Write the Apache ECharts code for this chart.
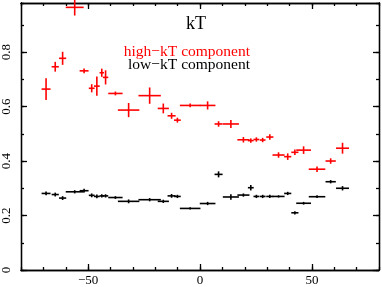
<!DOCTYPE html>
<html><head><meta charset="utf-8">
<script src="https://cdn.jsdelivr.net/npm/echarts@6/dist/echarts.min.js"></script>
<style>html,body{margin:0;padding:0;background:#fff}#c{width:382px;height:287px}</style>
</head><body><div id="c"></div>
<script>
// bin centres and half widths (shared by both components)
const xCenters = [-68.8,-64.7,-61.4,-56.0,-51.8,-48.4,-46.1,-43.9,-42.2,-37.8,-31.9,-22.5,-16.4,-12.7,-10.1,-4.4,3.4,8.3,13.8,19.4,22.7,25.2,28.0,31.2,35.1,39.2,42.4,46.3,52.3,58.4,63.7];
const xHalfWidths = [2.0,1.6,1.6,4.0,2.0,1.3,1.3,1.0,1.2,3.2,4.8,5.0,2.5,1.8,1.5,4.6,3.5,1.8,3.6,2.7,1.3,1.3,1.3,1.6,2.7,1.6,1.6,3.3,3.7,2.3,2.9];
const highKT = [0.664,0.746,0.777,0.964,0.731,0.667,0.675,0.724,0.707,0.648,0.587,0.640,0.593,0.566,0.550,0.604,0.604,0.536,0.536,0.478,0.475,0.479,0.477,0.488,0.422,0.416,0.432,0.440,0.370,0.400,0.447];
const highKTErr = [0.040,0.018,0.024,0.030,0.009,0.015,0.035,0.015,0.026,0.007,0.026,0.030,0.018,0.011,0.009,0.007,0.015,0.010,0.015,0.010,0.008,0.008,0.008,0.010,0.010,0.012,0.010,0.014,0.010,0.010,0.020];
const lowKT = [0.281,0.277,0.264,0.287,0.291,0.274,0.270,0.272,0.272,0.266,0.252,0.258,0.252,0.272,0.270,0.226,0.244,0.351,0.268,0.275,0.302,0.270,0.270,0.270,0.270,0.281,0.210,0.245,0.269,0.324,0.300];
const lowKTErr = [0.007,0.007,0.007,0.006,0.007,0.007,0.007,0.006,0.006,0.005,0.007,0.006,0.006,0.007,0.006,0.004,0.006,0.011,0.010,0.006,0.010,0.006,0.006,0.006,0.004,0.006,0.006,0.005,0.005,0.006,0.008];
const xMajorTicks = [-50,0,50];
const yMajorTicks = [0,0.2,0.4,0.6,0.8];
const titleText = 'kT';
const highLabel = 'high\u2212kT component';
const lowLabel = 'low\u2212kT component';

const FONT = 'Liberation Serif';
function build(vals, errs){
  return xCenters.map((x,i)=>[x, vals[i], xHalfWidths[i], errs[i]]);
}
function makeRender(color){
  return function(params, api){
    const x=api.value(0), y=api.value(1), xe=api.value(2), ye=api.value(3);
    const l=api.coord([x-xe,y]), r=api.coord([x+xe,y]);
    const b=api.coord([x,y-ye]), t=api.coord([x,y+ye]);
    const style={stroke:color, lineWidth:1.6};
    return {type:'group', children:[
      {type:'line', shape:{x1:l[0],y1:l[1],x2:r[0],y2:r[1]}, style:style},
      {type:'line', shape:{x1:b[0],y1:b[1],x2:t[0],y2:t[1]}, style:style}
    ]};
  };
}
const lineStyle={color:'#000', width:1.3};
const fmtX = v => v<0 ? '\u2212'+Math.abs(v) : String(v);
const fmtY = v => v===0 ? '0' : v.toFixed(1);
const XMIN=-80, XMAX=80, YMIN=0, YMAX=0.98;
function ax(extra){
  return Object.assign({type:'value', splitLine:{show:false},
    axisLine:{onZero:false, lineStyle:lineStyle}}, extra);
}
const chart = echarts.init(document.getElementById('c'), null, {renderer:'canvas'});
chart.setOption({
  animation:false,
  backgroundColor:'#fff',
  graphic:[
    {type:'text', x:196, y:24, style:{text:titleText, fill:'#000', align:'center', verticalAlign:'middle', font:'18px "Liberation Serif"'}},
    {type:'text', x:250, y:52, style:{text:highLabel, fill:'#ff0000', align:'right', verticalAlign:'middle', font:'15.5px "Liberation Serif"'}},
    {type:'text', x:250, y:65, style:{text:lowLabel, fill:'#000', align:'right', verticalAlign:'middle', font:'15.5px "Liberation Serif"'}}
  ],
  grid:{left:17, right:3, top:3, bottom:17},
  xAxis:[
    ax({position:'bottom', min:XMIN, max:XMAX,
     axisTick:{inside:true, length:6, customValues:xMajorTicks, lineStyle:lineStyle},
     axisLabel:{customValues:xMajorTicks, formatter:fmtX, margin:4, color:'#000', fontFamily:FONT, fontSize:13}}),
    ax({position:'bottom', min:XMIN, max:XMAX, interval:10,
     axisTick:{inside:true, length:3, lineStyle:lineStyle}, axisLabel:{show:false}}),
    ax({position:'top', min:XMIN, max:XMAX,
     axisTick:{inside:true, length:6, customValues:xMajorTicks, lineStyle:lineStyle}, axisLabel:{show:false}}),
    ax({position:'top', min:XMIN, max:XMAX, interval:10,
     axisTick:{inside:true, length:3, lineStyle:lineStyle}, axisLabel:{show:false}})
  ],
  yAxis:[
    ax({position:'left', min:YMIN, max:YMAX,
     axisTick:{inside:true, length:6, customValues:yMajorTicks, lineStyle:lineStyle},
     axisLabel:{customValues:yMajorTicks, formatter:fmtY, rotate:90, margin:8, color:'#000', fontFamily:FONT, fontSize:13}}),
    ax({position:'left', min:YMIN, max:YMAX, interval:0.1,
     axisTick:{inside:true, length:3, lineStyle:lineStyle}, axisLabel:{show:false}}),
    ax({position:'right', min:YMIN, max:YMAX,
     axisTick:{inside:true, length:6, customValues:yMajorTicks, lineStyle:lineStyle}, axisLabel:{show:false}}),
    ax({position:'right', min:YMIN, max:YMAX, interval:0.1,
     axisTick:{inside:true, length:3, lineStyle:lineStyle}, axisLabel:{show:false}})
  ],
  series:[
    {type:'custom', name:'high', xAxisIndex:0, yAxisIndex:0, renderItem:makeRender('#ff0000'),
     encode:{x:0, y:1}, data:build(highKT, highKTErr), clip:false},
    {type:'custom', name:'low', xAxisIndex:0, yAxisIndex:0, renderItem:makeRender('#000000'),
     encode:{x:0, y:1}, data:build(lowKT, lowKTErr), clip:false}
  ]
});
</script></body></html>
